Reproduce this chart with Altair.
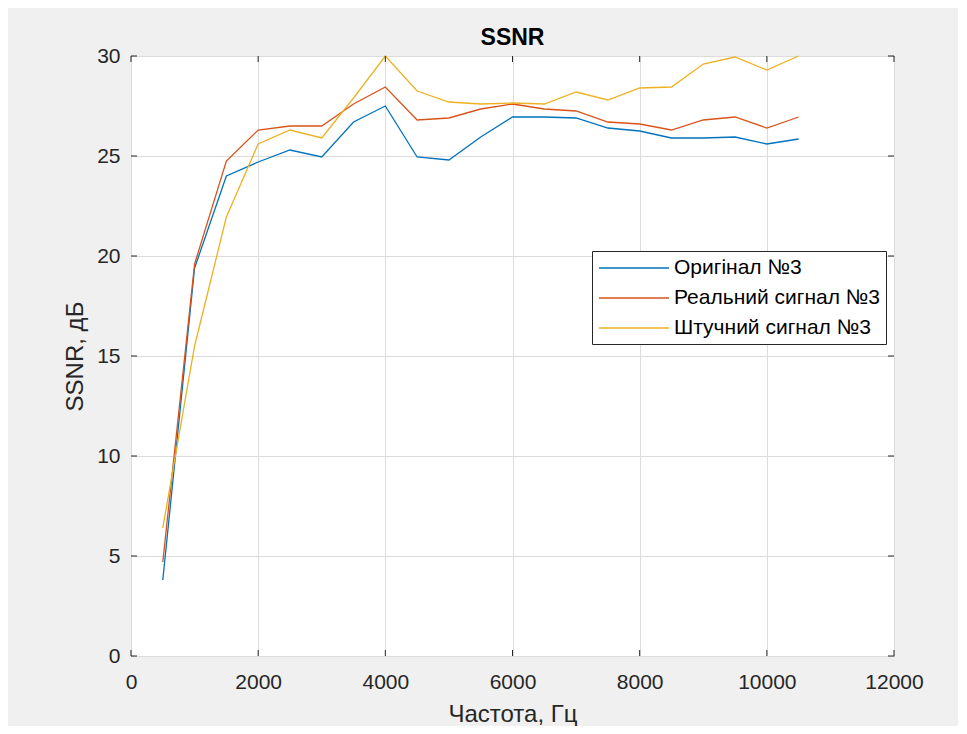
import altair as alt
import pandas as pd

freq = [500, 1000, 1500, 2000, 2500, 3000, 3500, 4000, 4500, 5000, 5500,
        6000, 6500, 7000, 7500, 8000, 8500, 9000, 9500, 10000, 10500]
original = [3.8, 19.4, 24.0, 24.7, 25.3, 24.95, 26.7, 27.5, 24.95, 24.8, 25.95,
            26.95, 26.95, 26.9, 26.4, 26.25, 25.9, 25.9, 25.95, 25.6, 25.85]
real = [4.7, 19.6, 24.75, 26.3, 26.5, 26.5, 27.6, 28.45, 26.8, 26.9, 27.35,
        27.6, 27.35, 27.25, 26.7, 26.6, 26.3, 26.8, 26.95, 26.4, 26.95]
synthetic = [6.4, 15.5, 21.95, 25.6, 26.3, 25.9, 27.9, 30.0, 28.25, 27.7, 27.6,
             27.65, 27.6, 28.2, 27.8, 28.4, 28.45, 29.6, 29.95, 29.3, 30.0]
series_names = ["Оригінал №3", "Реальний сигнал №3", "Штучний сигнал №3"]
series_colors = ["#0072BD", "#D95319", "#EDB120"]
x_ticks = [0, 2000, 4000, 6000, 8000, 10000, 12000]
y_ticks = [0, 5, 10, 15, 20, 25, 30]

rows = []
for name, vals in zip(series_names, [original, real, synthetic]):
    for f, v in zip(freq, vals):
        rows.append({"freq": f, "ssnr": v, "series": name})
df = pd.DataFrame(rows)
xt = pd.DataFrame({"freq": x_ticks})
yt = pd.DataFrame({"ssnr": y_ticks})

W, H = 763, 600
FONT = "Liberation Sans"
DARK = "#262626"

xscale = alt.Scale(domain=[0, 12000], nice=False)
yscale = alt.Scale(domain=[0, 30], nice=False)
x_axis = alt.Axis(values=x_ticks, format="d", title="Частота, Гц", grid=True,
                  domain=False, ticks=False, labelPadding=15,
                  labelFlush=False, titleBaseline="alphabetic", titleY=65)
y_axis = alt.Axis(values=y_ticks, format="d", title="SSNR, дБ", grid=True,
                  domain=False, ticks=False, labelPadding=11,
                  labelFlush=False, titleBaseline="alphabetic",
                  titleX=-49, titleY=300)

lines = alt.Chart(df).mark_line(strokeWidth=1.3).encode(
    x=alt.X("freq:Q", scale=xscale, axis=x_axis),
    y=alt.Y("ssnr:Q", scale=yscale, axis=y_axis),
    color=alt.Color("series:N",
                    scale=alt.Scale(domain=series_names, range=series_colors),
                    sort=series_names, title=None,
                    legend=alt.Legend(orient="none", legendX=461, legendY=195)),
)

tick_len = 6
bottom = alt.Chart(xt).mark_rule(color=DARK, strokeWidth=1).encode(
    x=alt.X("freq:Q", scale=xscale, axis=x_axis),
    y=alt.value(H), y2=alt.value(H - tick_len))
top = alt.Chart(xt).mark_rule(color=DARK, strokeWidth=1).encode(
    x=alt.X("freq:Q", scale=xscale, axis=x_axis),
    y=alt.value(0), y2=alt.value(tick_len))
left = alt.Chart(yt).mark_rule(color=DARK, strokeWidth=1).encode(
    y=alt.Y("ssnr:Q", scale=yscale, axis=y_axis),
    x=alt.value(0), x2=alt.value(tick_len))
right = alt.Chart(yt).mark_rule(color=DARK, strokeWidth=1).encode(
    y=alt.Y("ssnr:Q", scale=yscale, axis=y_axis),
    x=alt.value(W), x2=alt.value(W - tick_len))

chart = alt.layer(lines, bottom, top, left, right).properties(
    width=W, height=H,
    title=alt.TitleParams("SSNR", fontSize=23, fontWeight="bold", font=FONT,
                          color="#000000", offset=-5),
    autosize=alt.AutoSizeParams(type="none"),
    padding={"left": 123, "top": 48, "right": 64, "bottom": 70},
    background="#f0f0f0",
).configure_view(
    fill="white", stroke=DARK, strokeWidth=1,
).configure_axis(
    labelFont=FONT, labelFontSize=21, labelColor=DARK,
    titleFont=FONT, titleFontSize=24, titleFontWeight="normal", titleColor=DARK,
    gridColor="#dcdcdc", gridWidth=1,
).configure_legend(
    fillColor="white", strokeColor=DARK, padding=6, cornerRadius=0,
    symbolType="M-3.5,0L3.5,0", symbolSize=400, symbolStrokeWidth=1.5,
    symbolOffset=25,
    labelFont=FONT, labelFontSize=21, labelColor="#000000", labelLimit=400,
    labelOffset=29, rowPadding=9,
)

chart.save("out.html", embed_options={"renderer": "svg", "actions": False})
